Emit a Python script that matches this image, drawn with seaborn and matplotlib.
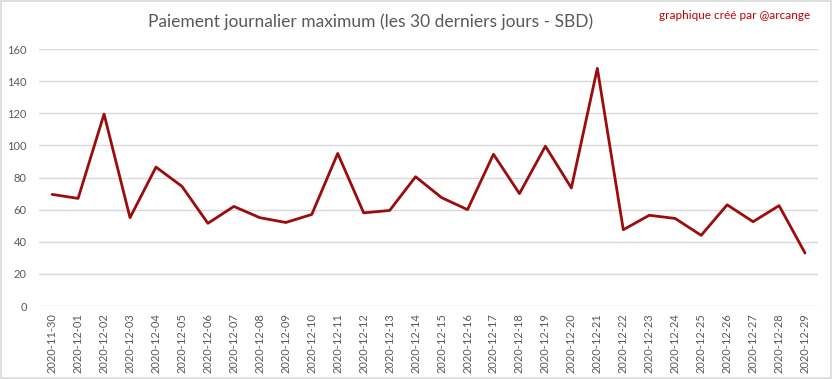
import pandas as pd
import seaborn as sns
import matplotlib.pyplot as plt
from matplotlib.patches import Rectangle

dates = [
    "2020-11-30", "2020-12-01", "2020-12-02", "2020-12-03", "2020-12-04",
    "2020-12-05", "2020-12-06", "2020-12-07", "2020-12-08", "2020-12-09",
    "2020-12-10", "2020-12-11", "2020-12-12", "2020-12-13", "2020-12-14",
    "2020-12-15", "2020-12-16", "2020-12-17", "2020-12-18", "2020-12-19",
    "2020-12-20", "2020-12-21", "2020-12-22", "2020-12-23", "2020-12-24",
    "2020-12-25", "2020-12-26", "2020-12-27", "2020-12-28", "2020-12-29",
]
payout = [
    69.5, 67, 119.5, 55, 86.5, 74.5, 51.5, 62, 55, 52,
    57, 95, 58, 59.5, 80.5, 67.5, 60, 94.5, 70, 99.5,
    73.5, 148, 47.5, 56.5, 54.5, 44, 63, 52.5, 62.5, 33,
]
yticks = [0, 20, 40, 60, 80, 100, 120, 140, 160]

df = pd.DataFrame({"date": dates, "payout": payout})

sns.set_style("white")
plt.rcParams["font.family"] = ["Lato", "DejaVu Sans"]

fig = plt.figure(figsize=(8.33, 3.79), dpi=100)
ax = fig.add_axes([0.047, 0.1926, 0.935, 0.678])

sns.lineplot(data=df, x="date", y="payout", ax=ax, color="#9b0c0c", linewidth=2)

ax.set_xlim(-0.5, len(dates) - 0.5)
ax.set_ylim(0, 160)
ax.set_yticks(yticks)
ax.yaxis.grid(True, color="#d9d9d9", linewidth=1)
ax.set_axisbelow(True)
for s in ax.spines.values():
    s.set_visible(False)
ax.tick_params(axis="both", length=0, colors="#595959", labelsize=8)
ax.tick_params(axis="x", rotation=90, pad=5)
ax.tick_params(axis="y", pad=9)
ax.set_xlabel("")
ax.set_ylabel("")

fig.text(0.445, 0.942, "Paiement journalier maximum (les 30 derniers jours - SBD)",
         ha="center", va="center", fontsize=12.5, color="#595959")
fig.text(0.973, 0.96, "graphique créé par @arcange", ha="right", va="center",
         fontsize=8.5, color="#c00000")

fig.patches.append(Rectangle((0.001, 0.002), 0.997, 0.995, transform=fig.transFigure,
                             fill=False, edgecolor="#d9d9d9", linewidth=1.2))

fig.savefig("out.png", dpi=100)
